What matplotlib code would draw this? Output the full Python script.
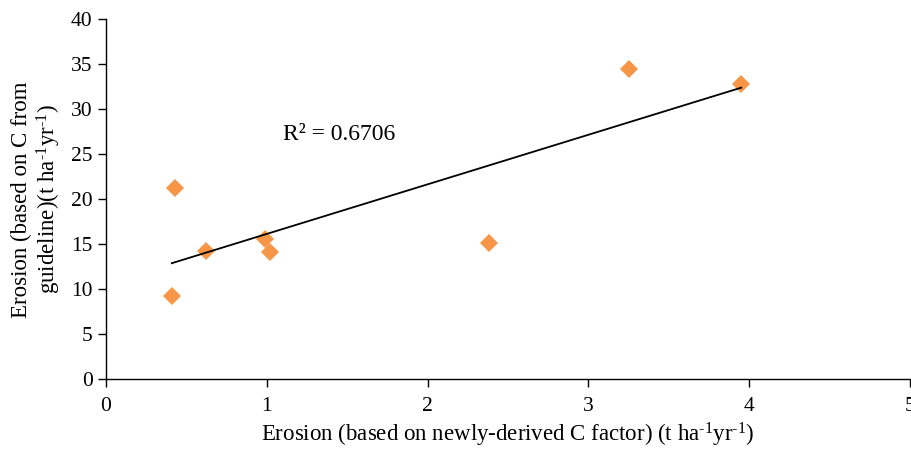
import numpy as np
import matplotlib
matplotlib.use("Agg")
import matplotlib.pyplot as plt

plt.rcParams['font.family'] = ['Liberation Serif', 'DejaVu Serif']
plt.rcParams['mathtext.fontset'] = 'custom'
plt.rcParams['mathtext.rm'] = 'Liberation Serif'
plt.rcParams['mathtext.it'] = 'Liberation Serif:italic'

# Data
x_new = [0.41, 0.43, 0.625, 0.99, 1.02, 2.38, 3.25, 3.95]
y_guide = [9.3, 21.3, 14.3, 15.6, 14.1, 15.2, 34.5, 32.8]
r2_text = "R² = 0.6706"
x_ticks = [0, 1, 2, 3, 4, 5]
y_ticks = [0, 5, 10, 15, 20, 25, 30, 35, 40]

fig = plt.figure(figsize=(9.12, 4.5), dpi=100)
ax = fig.add_axes([0.116, 0.157, 0.882, 0.800])

ax.plot(x_new, y_guide, linestyle='none', marker='D', markersize=9.5,
        color='#F79646', markeredgewidth=0, zorder=2)

# Linear trendline
slope, intercept = np.polyfit(x_new, y_guide, 1)
xs = np.array([min(x_new), max(x_new)])
ax.plot(xs, slope * xs + intercept, color='black', lw=1.3, zorder=3)

ax.text(1.1, 27.2, r2_text, fontsize=17, ha='left', va='center')

ax.set_xlim(0, 5)
ax.set_ylim(0, 40)
ax.set_xticks(x_ticks)
ax.set_yticks(y_ticks)
ax.tick_params(axis='both', labelsize=15.5, direction='out', length=6, width=1, colors='black')
ax.tick_params(axis='x', pad=7)
for s in ['top', 'right']:
    ax.spines[s].set_visible(False)
for s in ['left', 'bottom']:
    ax.spines[s].set_linewidth(1)

sup = r"$^{\text{-1}}$"
ax.set_xlabel("Erosion (based on newly-derived C factor) (t ha" + sup + "yr" + sup + ")",
              fontsize=16.5, labelpad=3)
ax.set_ylabel("Erosion (based on C from\nguideline)(t ha" + sup + "yr" + sup + ")",
              fontsize=16.5, labelpad=6, linespacing=1.1)

fig.savefig("out.png", dpi=100)
